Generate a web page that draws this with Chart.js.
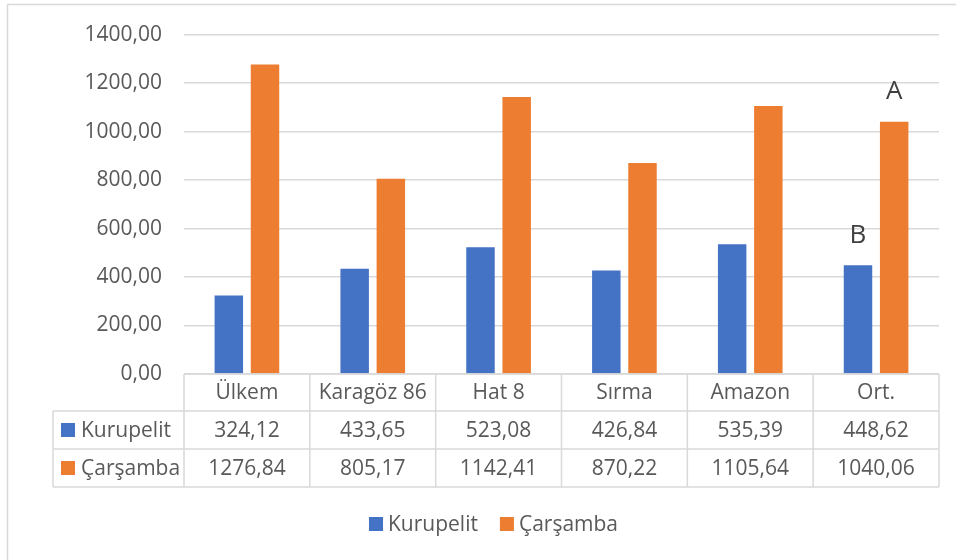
<!DOCTYPE html>
<html>
<head>
<meta charset="utf-8">
<script src="https://cdn.jsdelivr.net/npm/chart.js@4/dist/chart.umd.min.js"></script>
<style>
  body { margin: 0; background: #fff; }
  canvas { display: block; }
</style>
</head>
<body>
<canvas id="chart" width="956" height="560"></canvas>
<script>
var categories = ["Ülkem", "Karagöz 86", "Hat 8", "Sırma", "Amazon", "Ort."];
var kurupelit = [324.12, 433.65, 523.08, 426.84, 535.39, 448.62];
var carsamba = [1276.84, 805.17, 1142.41, 870.22, 1105.64, 1040.06];
var seriesNames = ["Kurupelit", "Çarşamba"];
var seriesColors = ["#4472C4", "#ED7D31"];
// letters written above the last group ("Ort.")
var groupMarks = ["B", "A"];

var FONT = "'Open Sans', sans-serif";
var TEXT = "#595959";
var LINE = "#d9d9d9";

function fmt(v) {
  return v.toFixed(2).replace(".", ",");
}

// data table under the plot, legend and the two letters
var tablePlugin = {
  id: "tablePlugin",
  beforeDraw: function (chart) {
    var ctx = chart.ctx;
    ctx.save();
    ctx.strokeStyle = LINE;
    ctx.lineWidth = 1.5;
    ctx.strokeRect(7.5, 4.5, 1000, 1000);
    ctx.restore();
  },
  afterDraw: function (chart) {
    var ctx = chart.ctx;
    var area = chart.chartArea;
    var n = categories.length;
    var colW = (area.right - area.left) / n;
    var top = area.bottom;
    var rowH = [37, 38, 38];
    var r1 = top + rowH[0];
    var r2 = r1 + rowH[1];
    var r3 = r2 + rowH[2];
    var leftEdge = 53;

    ctx.save();
    ctx.strokeStyle = LINE;
    ctx.lineWidth = 1.5;
    ctx.beginPath();
    // horizontal lines
    ctx.moveTo(area.left, top); ctx.lineTo(area.right, top);
    ctx.moveTo(leftEdge, r1); ctx.lineTo(area.right, r1);
    ctx.moveTo(leftEdge, r2); ctx.lineTo(area.right, r2);
    ctx.moveTo(leftEdge, r3); ctx.lineTo(area.right, r3);
    // vertical lines
    ctx.moveTo(leftEdge, r1); ctx.lineTo(leftEdge, r3);
    for (var i = 0; i <= n; i++) {
      var x = area.left + i * colW;
      ctx.moveTo(x, top); ctx.lineTo(x, r3);
    }
    ctx.stroke();

    ctx.font = "21px " + FONT;
    ctx.fillStyle = TEXT;
    ctx.textAlign = "center";
    ctx.textBaseline = "middle";
    var rows = [kurupelit, carsamba];
    for (var c = 0; c < n; c++) {
      var cx = area.left + (c + 0.5) * colW;
      ctx.fillText(categories[c], cx, top + rowH[0] / 2 + 1);
      ctx.fillText(fmt(rows[0][c]), cx, r1 + rowH[1] / 2 + 1);
      ctx.fillText(fmt(rows[1][c]), cx, r2 + rowH[2] / 2 + 1);
    }

    // series keys in the table
    ctx.textAlign = "left";
    var rowMid = [r1 + rowH[1] / 2, r2 + rowH[2] / 2];
    for (var s = 0; s < 2; s++) {
      ctx.fillStyle = seriesColors[s];
      ctx.fillRect(61, rowMid[s] - 7, 14, 14);
      ctx.fillStyle = TEXT;
      ctx.fillText(seriesNames[s], 81, rowMid[s] + 1);
    }

    // bottom legend
    var ly = 524;
    var lx = 369;
    for (var s2 = 0; s2 < 2; s2++) {
      ctx.fillStyle = seriesColors[s2];
      ctx.fillRect(lx, ly - 7, 14, 14);
      ctx.fillStyle = TEXT;
      ctx.fillText(seriesNames[s2], lx + 19, ly + 1);
      lx += 19 + ctx.measureText(seriesNames[s2]).width + 22;
    }

    // letters over the last group
    ctx.font = "26px " + FONT;
    ctx.fillStyle = "#404040";
    ctx.textAlign = "center";
    for (var d = 0; d < 2; d++) {
      var bar = chart.getDatasetMeta(d).data[n - 1];
      ctx.fillText(groupMarks[d], bar.x, bar.y - 30);
    }
    ctx.restore();
  }
};

new Chart(document.getElementById("chart"), {
  type: "bar",
  data: {
    labels: categories,
    datasets: [
      {
        label: seriesNames[0],
        data: kurupelit,
        backgroundColor: seriesColors[0],
        barPercentage: 0.787,
        categoryPercentage: 0.575,
      },
      {
        label: seriesNames[1],
        data: carsamba,
        backgroundColor: seriesColors[1],
        barPercentage: 0.787,
        categoryPercentage: 0.575,
      },
    ],
  },
  options: {
    responsive: false,
    devicePixelRatio: 1,
    animation: false,
    layout: {
      padding: { left: 0, right: 17, top: 33, bottom: 186 },
    },
    scales: {
      x: {
        display: false,
      },
      y: {
        min: 0,
        max: 1400,
        afterFit: function (scale) {
          scale.width = 184;
        },
        border: { display: false },
        grid: { color: LINE, lineWidth: 1.5, drawTicks: false },
        ticks: {
          stepSize: 200,
          padding: 22,
          color: TEXT,
          font: { family: FONT, size: 21 },
          callback: function (v) {
            return fmt(v);
          },
        },
      },
    },
    plugins: {
      legend: { display: false },
      tooltip: { enabled: false },
    },
  },
  plugins: [tablePlugin],
});
</script>
</body>
</html>
